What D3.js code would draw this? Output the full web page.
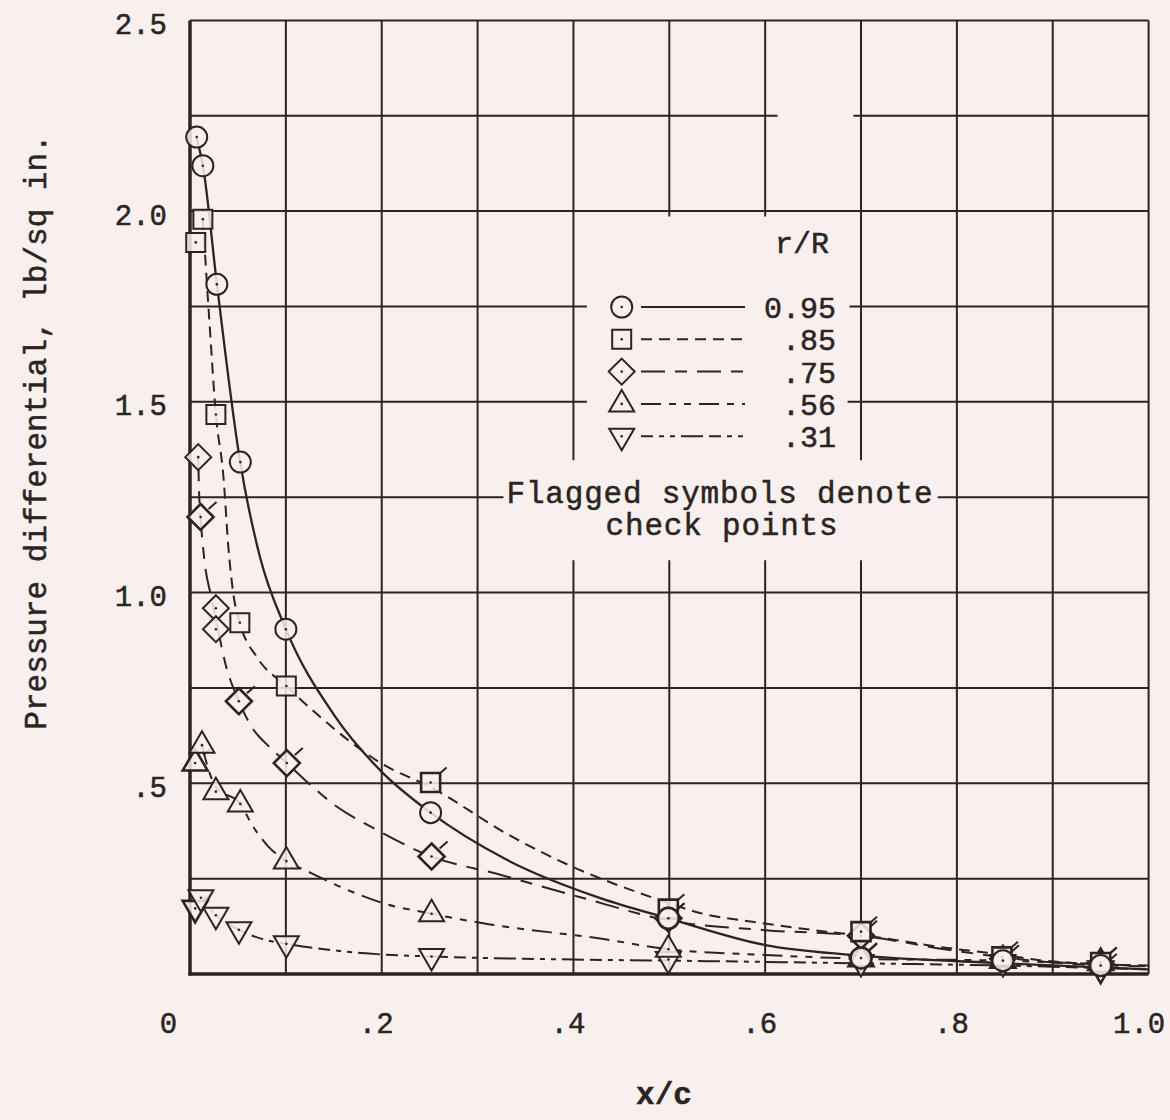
<!DOCTYPE html>
<html>
<head>
<meta charset="utf-8">
<script src="https://cdn.jsdelivr.net/npm/d3@7"></script>
<style>
  html, body { margin: 0; padding: 0; background: #f8f0ee; }
  svg { display: block; }
  text { font-family: "Liberation Mono", "DejaVu Sans Mono", monospace; fill: #2b2421; stroke: #2b2421; stroke-width: 0.5px; }
</style>
</head>
<body>
<svg width="1170" height="1120"></svg>
<script>
// ---- axis ticks / grid ----
const xTicks = [0, 0.2, 0.4, 0.6, 0.8, 1.0];
const xTickLabels = ["0", ".2", ".4", ".6", ".8", "1.0"];
const yTicks = [0.5, 1.0, 1.5, 2.0, 2.5];
const yTickLabels = [".5", "1.0", "1.5", "2.0", "2.5"];
const xGrid = [0.1, 0.2, 0.3, 0.4, 0.5, 0.6, 0.7, 0.8, 0.9];
const yGrid = [0.25, 0.5, 0.75, 1.0, 1.25, 1.5, 1.75, 2.0, 2.25];

// ---- series (r/R) ----
const seriesNames = ["0.95", ".85", ".75", ".56", ".31"];

// measured points, x/c and pressure differential (lb/sq in.)
const r95x = [0.007, 0.0134, 0.028, 0.0525, 0.100, 0.251, 0.499, 0.700, 0.848, 0.950];
const r95y = [2.194, 2.119, 1.808, 1.342, 0.904, 0.423, 0.146, 0.042, 0.035, 0.022];
const r95flag = [0, 0, 0, 0, 0, 0, 1, 1, 0, 0];

const r85x = [0.006, 0.0134, 0.027, 0.052, 0.1005, 0.251, 0.499, 0.700, 0.847, 0.950];
const r85y = [1.918, 1.979, 1.467, 0.921, 0.755, 0.502, 0.170, 0.111, 0.045, 0.030];
const r85flag = [0, 0, 0, 0, 0, 1, 1, 1, 1, 1];

const r75x = [0.0086, 0.011, 0.027, 0.027, 0.051, 0.101, 0.252, 0.499, 0.700, 0.848, 0.950];
const r75y = [1.355, 1.198, 0.959, 0.904, 0.715, 0.553, 0.308, 0.146, 0.100, 0.040, 0.028];
const r75flag = [0, 1, 0, 0, 1, 1, 1, 1, 1, 0, 0];

const r56x = [0.0054, 0.0125, 0.027, 0.0525, 0.1005, 0.252, 0.499, 0.700, 0.848, 0.950];
const r56y = [0.553, 0.600, 0.478, 0.446, 0.296, 0.158, 0.065, 0.040, 0.036, 0.030];
const r56flag = [1, 0, 0, 0, 0, 0, 0, 1, 1, 1];

const r31x = [0.0054, 0.0114, 0.027, 0.051, 0.1005, 0.252, 0.499, 0.700, 0.848, 0.950];
const r31y = [0.172, 0.200, 0.154, 0.116, 0.079, 0.046, 0.038, 0.030, 0.030, 0.013];
const r31flag = [1, 0, 0, 0, 0, 0, 0, 0, 0, 1];

// faired curves as drawn on the sheet
const c95 = [[0.007, 2.19], [0.0134, 2.12], [0.028, 1.81], [0.0525, 1.34], [0.073, 1.093], [0.100, 0.904],
  [0.15, 0.68], [0.2, 0.53], [0.251, 0.423], [0.33, 0.30], [0.428, 0.199], [0.499, 0.146], [0.60, 0.076],
  [0.69, 0.05], [0.85, 0.028], [1.0, 0.012]];
const c85 = [[0.0134, 1.98], [0.02, 1.72], [0.027, 1.467], [0.035, 1.30], [0.040, 1.12], [0.045, 1.0],
  [0.052, 0.921], [0.07, 0.83], [0.1005, 0.755], [0.133, 0.68], [0.201, 0.55], [0.251, 0.49], [0.333, 0.364],
  [0.40, 0.28], [0.441, 0.238], [0.483, 0.20], [0.532, 0.16], [0.595, 0.134], [0.664, 0.111], [0.723, 0.094],
  [0.782, 0.071], [0.85, 0.05], [0.89, 0.035], [1.0, 0.022]];
const c75 = [[0.0086, 1.355], [0.0095, 1.26], [0.011, 1.198], [0.015, 1.085], [0.022, 0.99], [0.027, 0.93],
  [0.037, 0.813], [0.051, 0.715], [0.065, 0.645], [0.081, 0.60], [0.101, 0.553], [0.121, 0.506], [0.153, 0.439],
  [0.191, 0.383], [0.252, 0.308], [0.321, 0.262], [0.409, 0.20], [0.5, 0.14], [0.6, 0.115], [0.7, 0.10],
  [0.8, 0.06], [0.9, 0.03], [1.0, 0.02]];
const c56 = [[0.0125, 0.60], [0.02, 0.53], [0.027, 0.49], [0.0525, 0.446], [0.065, 0.39], [0.081, 0.336],
  [0.1005, 0.296], [0.121, 0.271], [0.161, 0.224], [0.201, 0.186], [0.252, 0.158], [0.313, 0.130],
  [0.428, 0.093], [0.499, 0.065], [0.6, 0.05], [0.7, 0.04], [0.85, 0.035], [1.0, 0.02]];
const c31 = [[0.0054, 0.185], [0.0114, 0.19], [0.027, 0.154], [0.051, 0.116], [0.075, 0.092], [0.1005, 0.079],
  [0.15, 0.062], [0.201, 0.051], [0.252, 0.046], [0.428, 0.037], [0.5, 0.035], [0.7, 0.028], [0.85, 0.022],
  [1.0, 0.012]];

// ---- layout ----
const ink = "#2b2421";
const paper = "#f8f0ee";
const fontSize = 29;

const svg = d3.select("svg");
svg.append("rect").attr("width", 1170).attr("height", 1120).attr("fill", paper);

const x = d3.scaleLinear().domain([0, 1]).range([190, 1148.6]);
const y = d3.scaleLinear().domain([0, 2.5]).range([974, 20.4]);

// grid lines are interrupted around the key and the note
const vGaps = { 0.4: [[1.085, 1.347]], 0.5: [[1.085, 1.986]], 0.6: [[1.085, 1.986]], 0.7: [[1.085, 1.347]] };
const hGaps = { 2.25: [[0.613, 0.692]], 1.75: [[0.414, 0.688]], 1.5: [[0.414, 0.686]], 1.25: [[0.327, 0.78]] };

function pieces(lo, hi, gaps) {
  const out = [];
  let start = lo;
  (gaps || []).forEach(g => { out.push([start, g[0]]); start = g[1]; });
  out.push([start, hi]);
  return out;
}

const grid = svg.append("g").attr("stroke", ink).attr("stroke-width", 2).attr("fill", "none");
xGrid.forEach(v => {
  pieces(0, 2.5, vGaps[v]).forEach(p => {
    grid.append("line").attr("x1", x(v)).attr("x2", x(v)).attr("y1", y(p[0])).attr("y2", y(p[1]));
  });
});
yGrid.forEach(v => {
  pieces(0, 1, hGaps[v]).forEach(p => {
    grid.append("line").attr("y1", y(v)).attr("y2", y(v)).attr("x1", x(p[0])).attr("x2", x(p[1]));
  });
});
// frame
grid.append("line").attr("x1", x(0)).attr("x2", x(1)).attr("y1", y(2.5)).attr("y2", y(2.5));
grid.append("line").attr("x1", x(1)).attr("x2", x(1)).attr("y1", y(2.5)).attr("y2", y(0));
grid.append("line").attr("x1", x(0)).attr("x2", x(0)).attr("y1", y(2.5)).attr("y2", y(0) + 1.5).attr("stroke-width", 3.5);
grid.append("line").attr("x1", x(0) - 1.5).attr("x2", x(1)).attr("y1", y(0)).attr("y2", y(0)).attr("stroke-width", 3.5);

// axes
const xAxis = svg.append("g").attr("transform", `translate(0,${y(0)})`)
  .call(d3.axisBottom(x).tickValues(xTicks).tickSize(0).tickFormat((d, i) => xTickLabels[i]));
xAxis.select(".domain").remove();
xAxis.selectAll("text")
  .attr("y", 59).attr("dy", 0).attr("dx", d => d === 0 ? -22 : (d === 1 ? -10 : -6))
  .attr("font-size", fontSize).attr("fill", ink)
  .style("font-family", '"Liberation Mono", monospace');

const yAxis = svg.append("g").attr("transform", `translate(${x(0)},0)`)
  .call(d3.axisLeft(y).tickValues(yTicks).tickSize(0).tickPadding(23).tickFormat((d, i) => yTickLabels[i]));
yAxis.select(".domain").remove();
yAxis.selectAll("text").attr("dy", "0.45em").attr("font-size", fontSize).attr("fill", ink)
  .style("font-family", '"Liberation Mono", monospace');

svg.append("text").attr("x", 664).attr("y", 1104).attr("text-anchor", "middle")
  .attr("font-size", 31).attr("font-weight", "bold").text("x/c");
svg.append("text").attr("transform", "translate(46,432) rotate(-90)").attr("text-anchor", "middle")
  .attr("font-size", 31).text("Pressure differential, lb/sq in.");

// curves
const dashes = [null, "11,7", "24,10,12,10", "20,8,7,8,7,8", "12,6,5,6,5,6,22,6"];
const curves = [c95, c85, c75, c56, c31];
const line = d3.line().x(d => x(d[0])).y(d => y(d[1])).curve(d3.curveMonotoneX);
const curveG = svg.append("g").attr("fill", "none").attr("stroke", ink);
curves.forEach((c, i) => {
  curveG.append("path").attr("d", line(c))
    .attr("stroke-width", i === 0 ? 2.3 : 2)
    .attr("stroke-dasharray", dashes[i]);
});

// symbols
const shapes = ["circle", "square", "diamond", "up", "down"];
function symPath(kind) {
  const p = d3.path();
  if (kind === "circle") { p.arc(0, 0, 10.5, 0, 2 * Math.PI); }
  else if (kind === "square") { p.rect(-9.5, -9.5, 19, 19); }
  else if (kind === "diamond") { p.moveTo(0, -13); p.lineTo(13, 0); p.lineTo(0, 13); p.lineTo(-13, 0); p.closePath(); }
  else if (kind === "up") { p.moveTo(0, -14); p.lineTo(12.5, 7.5); p.lineTo(-12.5, 7.5); p.closePath(); }
  else { p.moveTo(0, 14); p.lineTo(12.5, -7.5); p.lineTo(-12.5, -7.5); p.closePath(); }
  return p.toString();
}

const pts = [[r95x, r95y, r95flag], [r85x, r85y, r85flag], [r75x, r75y, r75flag], [r56x, r56y, r56flag], [r31x, r31y, r31flag]];
const symG = svg.append("g");
// draw the lower radii first so the outer ones sit on top
[4, 3, 2, 1, 0].forEach(si => {
  const [xs, ys, fl] = pts[si];
  const data = xs.map((v, i) => ({ x: v, y: ys[i], f: fl[i] }));
  const g = symG.selectAll(null).data(data).enter().append("g")
    .attr("transform", d => `translate(${x(d.x)},${y(d.y)})`);
  g.filter(d => d.f).append("line")
    .attr("x1", 8).attr("y1", -8).attr("x2", 16).attr("y2", -15)
    .attr("stroke", ink).attr("stroke-width", 2);
  g.append("path").attr("d", symPath(shapes[si]))
    .attr("fill", paper).attr("fill-opacity", 0.85)
    .attr("stroke", ink).attr("stroke-width", d => d.f ? 2.6 : 2);
  g.append("circle").attr("r", 1.3).attr("fill", ink);
});

// key
const key = svg.append("g");
key.append("text").attr("x", 802).attr("y", 253).attr("text-anchor", "middle").attr("font-size", 30).text("r/R");
seriesNames.forEach((name, i) => {
  const ry = 307 + i * 32.3;
  key.append("line").attr("x1", 641).attr("x2", 745).attr("y1", ry).attr("y2", ry)
    .attr("stroke", ink).attr("stroke-width", 2).attr("stroke-dasharray", dashes[i]);
  key.append("path").attr("transform", `translate(621.7,${ry})`).attr("d", symPath(shapes[i]))
    .attr("fill", paper).attr("stroke", ink).attr("stroke-width", 2);
  key.append("circle").attr("cx", 621.7).attr("cy", ry).attr("r", 1.3).attr("fill", ink);
  key.append("text").attr("x", 836).attr("y", ry + 11).attr("text-anchor", "end").attr("font-size", 30).text(name);
});
key.append("text").attr("x", 720).attr("y", 503).attr("text-anchor", "middle").attr("font-size", 31)
  .attr("letter-spacing", 0.8).text("Flagged symbols denote");
key.append("text").attr("x", 722).attr("y", 535).attr("text-anchor", "middle").attr("font-size", 31)
  .attr("letter-spacing", 0.8).text("check points");
</script>
</body>
</html>
